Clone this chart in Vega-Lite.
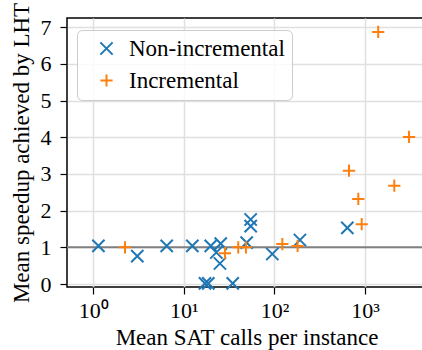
{
  "$schema": "https://vega.github.io/schema/vega-lite/v6.json",
  "width": 359,
  "height": 269,
  "autosize": "none",
  "padding": {"left": 67, "top": 18, "right": 0, "bottom": 63},
  "config": {
    "font": "Liberation Serif",
    "view": {"stroke": "black", "strokeWidth": 1.5},
    "axis": {
      "labelFont": "Liberation Serif", "titleFont": "Liberation Serif",
      "labelFontSize": 22, "titleFontSize": 23,
      "labelColor": "#000", "titleColor": "#000", "titleFontWeight": "normal",
      "tickColor": "#000", "tickSize": 7, "tickWidth": 1.2, "labelOverlap": false,
      "domain": false, "gridColor": "#e0e0e0", "gridWidth": 1.5
    },
    "legend": {"labelFont": "Liberation Serif", "labelFontSize": 23, "labelColor": "#000"}
  },
  "datasets": {
    "pts": [
      {"calls": 1.14, "speedup": 1.04, "type": "Non-incremental"},
      {"calls": 3.06, "speedup": 0.76, "type": "Non-incremental"},
      {"calls": 6.46, "speedup": 1.04, "type": "Non-incremental"},
      {"calls": 12.4, "speedup": 1.04, "type": "Non-incremental"},
      {"calls": 19.8, "speedup": 1.04, "type": "Non-incremental"},
      {"calls": 25.5, "speedup": 1.1, "type": "Non-incremental"},
      {"calls": 22.8, "speedup": 0.86, "type": "Non-incremental"},
      {"calls": 25, "speedup": 0.56, "type": "Non-incremental"},
      {"calls": 17.1, "speedup": 0.02, "type": "Non-incremental"},
      {"calls": 18.6, "speedup": 0.02, "type": "Non-incremental"},
      {"calls": 34.6, "speedup": 0.02, "type": "Non-incremental"},
      {"calls": 54.6, "speedup": 1.76, "type": "Non-incremental"},
      {"calls": 54.6, "speedup": 1.58, "type": "Non-incremental"},
      {"calls": 49.3, "speedup": 1.13, "type": "Non-incremental"},
      {"calls": 94.6, "speedup": 0.82, "type": "Non-incremental"},
      {"calls": 191, "speedup": 1.2, "type": "Non-incremental"},
      {"calls": 637, "speedup": 1.53, "type": "Non-incremental"},
      {"calls": 2.24, "speedup": 1.0, "type": "Incremental"},
      {"calls": 28.4, "speedup": 0.84, "type": "Incremental"},
      {"calls": 39.8, "speedup": 1.0, "type": "Incremental"},
      {"calls": 48.4, "speedup": 1.0, "type": "Incremental"},
      {"calls": 122, "speedup": 1.09, "type": "Incremental"},
      {"calls": 180, "speedup": 1.04, "type": "Incremental"},
      {"calls": 664, "speedup": 3.09, "type": "Incremental"},
      {"calls": 841, "speedup": 2.32, "type": "Incremental"},
      {"calls": 917, "speedup": 1.63, "type": "Incremental"},
      {"calls": 1396, "speedup": 6.87, "type": "Incremental"},
      {"calls": 2100, "speedup": 2.68, "type": "Incremental"},
      {"calls": 3054, "speedup": 4.01, "type": "Incremental"}
    ],
    "ref": [{"speedup": 1}]
  },
  "encoding": {
    "y": {
      "field": "speedup", "type": "quantitative",
      "scale": {"domain": [-0.08, 7.25], "nice": false, "zero": false},
      "axis": {"values": [0, 1, 2, 3, 4, 5, 6, 7], "tickCount": 8, "title": "Mean speedup achieved by LHT", "labelPadding": 9, "titlePadding": 7, "labelOverlap": false}
    }
  },
  "layer": [
    {
      "data": {"name": "ref"},
      "mark": {"type": "rule", "color": "#808080", "strokeWidth": 2},
      "encoding": {}
    },
    {
      "data": {"name": "pts"},
      "mark": {"type": "point", "filled": false, "strokeWidth": 2, "size": 150, "opacity": 1},
      "encoding": {
        "x": {
          "field": "calls", "type": "quantitative",
          "scale": {"type": "log", "domain": [0.513, 4700], "nice": false},
          "axis": {
            "values": [1, 10, 100, 1000],
            "labelExpr": "datum.value == 1 ? '10⁰' : datum.value == 10 ? '10¹' : datum.value == 100 ? '10²' : '10³'",
            "title": "Mean SAT calls per instance", "labelPadding": 6, "titlePadding": 5
          }
        },
        "color": {
          "field": "type", "type": "nominal",
          "scale": {"domain": ["Non-incremental", "Incremental"], "range": ["#1f77b4", "#ff7f0e"]},
          "legend": {
            "title": null, "orient": "none", "legendX": 10, "legendY": 12,
            "fillColor": "rgba(255,255,255,0.8)", "strokeColor": "#cccccc", "cornerRadius": 5,
            "padding": 7, "symbolOffset": 11, "labelOffset": 11, "rowPadding": 8,
            "symbolSize": 150, "symbolStrokeWidth": 2, "labelFontSize": 23, "labelFont": "Liberation Serif", "labelColor": "#000"
          }
        },
        "shape": {
          "field": "type", "type": "nominal",
          "scale": {"domain": ["Non-incremental", "Incremental"], "range": ["M-1,-1L1,1M-1,1L1,-1", "M-1,0L1,0M0,-1L0,1"]}
        }
      }
    }
  ]
}
